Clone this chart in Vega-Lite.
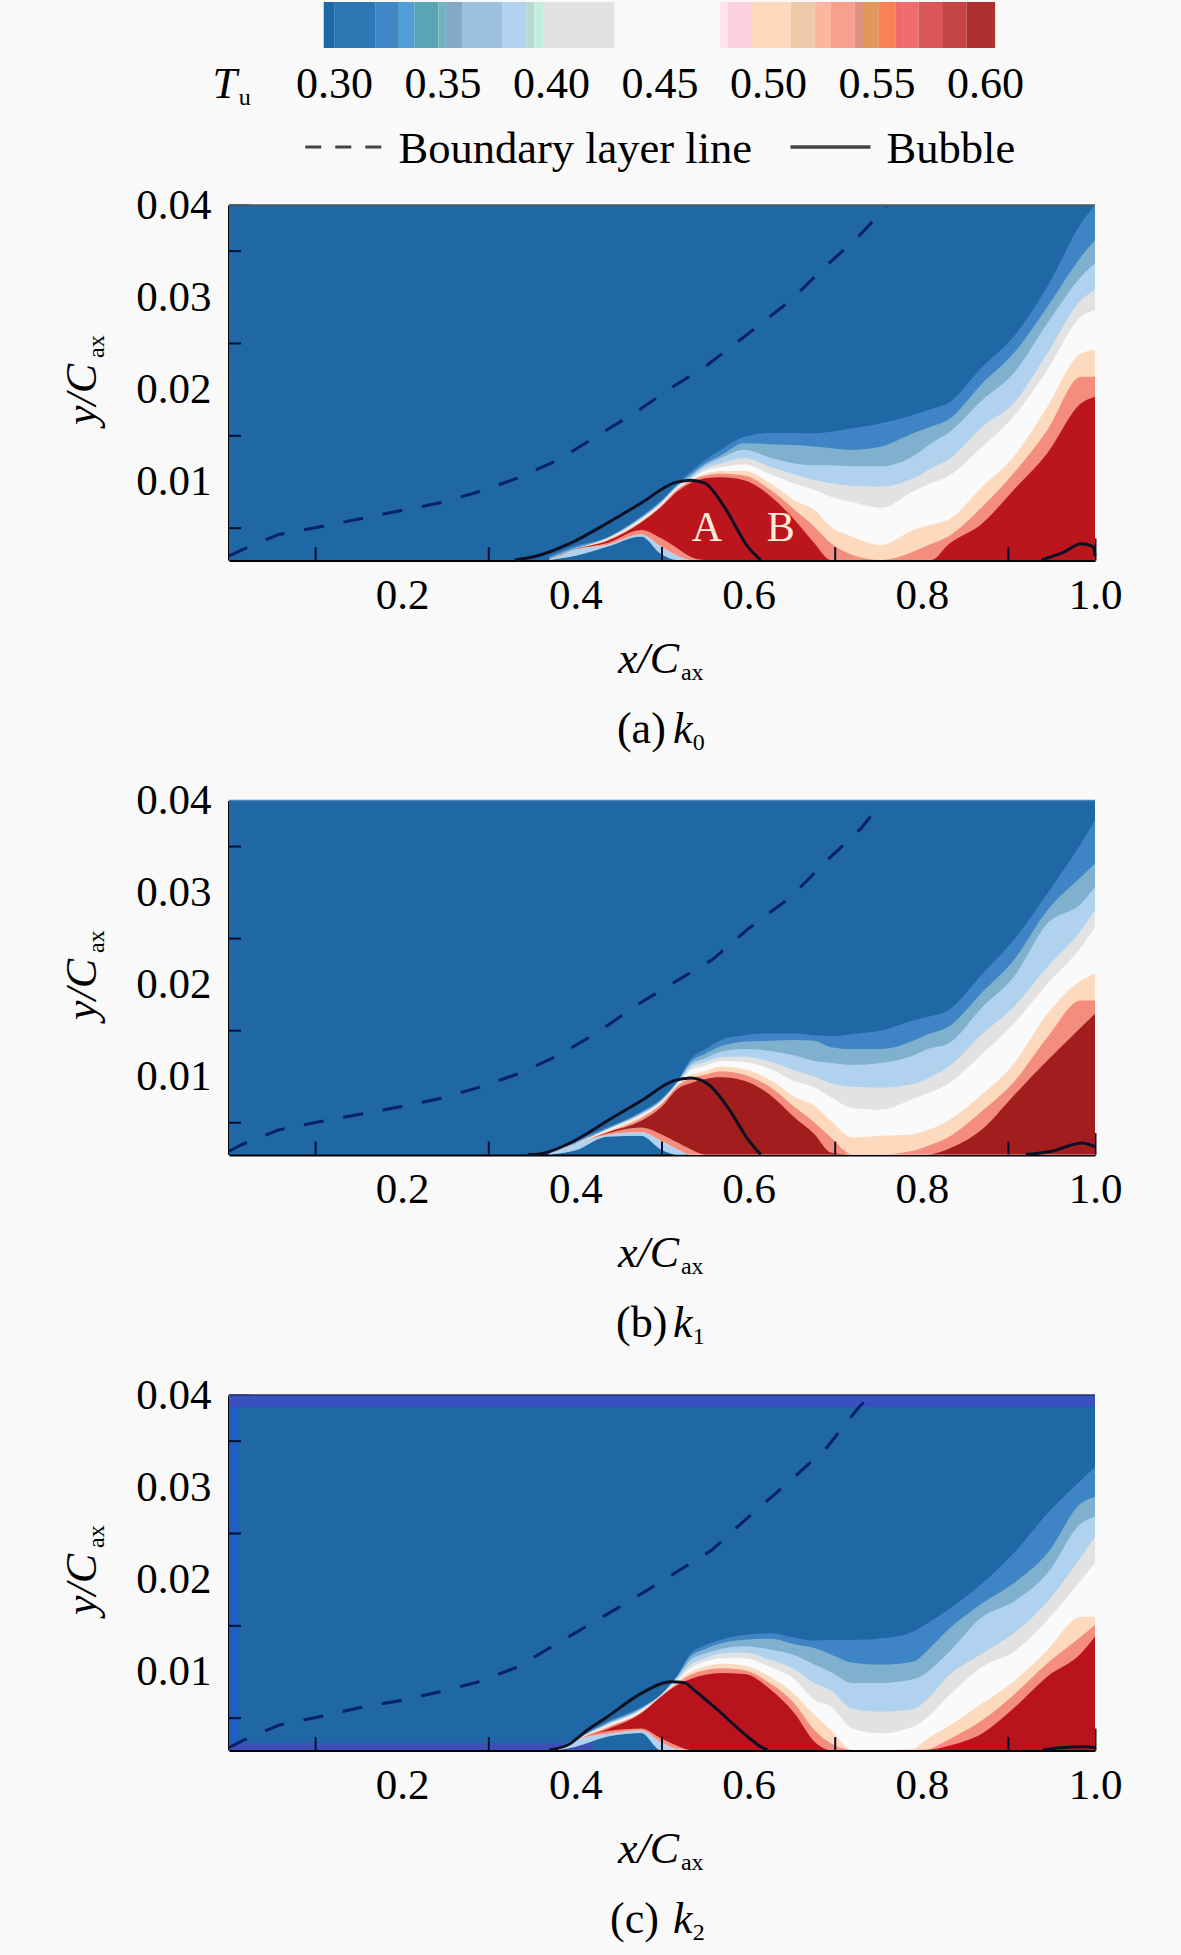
{"$schema":"https://vega.github.io/schema/vega-lite/v6.json","background":"#f9f9f9","padding":0,"bounds":"flush","spacing":240.5,"data":{"values":[{"k":1}]},"config":{"view":{"stroke":null},"axis":{"grid":false,"labelFont":"Liberation Serif","labelFontSize":43,"labelColor":"#000","tickColor":"#07112e","tickWidth":2,"domainColor":"#000","domainWidth":3,"zindex":1,"labelFlush":false,"labelOverlap":false,"labelBound":false}},
"datasets":{
"fa":[
{"x":0.37,"c1":0.002,"c2":0.0018,"c3":0.0016,"c4":0.00155,"c5":0.00155,"c6":0.00155,"c7":0.00155,"c8":0.00155,"bo":0.00155,"bm":0.00155,"br":0.00155},
{"x":0.4,"c1":0.0031,"c2":0.0029,"c3":0.0027,"c4":0.0027,"c5":0.0027,"c6":0.0027,"c7":0.0027,"c8":0.0027,"bo":0.002,"bm":0.0027,"br":0.0027},
{"x":0.437,"c1":0.004,"c2":0.004,"c3":0.0039,"c4":0.0039,"c5":0.0038,"c6":0.0038,"c7":0.0037,"c8":0.0036,"bo":0.003,"bm":0.0032,"br":0.0034},
{"x":0.476,"c1":0.0063,"c2":0.0062,"c3":0.0061,"c4":0.006,"c5":0.0059,"c6":0.0058,"c7":0.0057,"c8":0.0056,"bo":0.0041,"bm":0.0043,"br":0.0048},
{"x":0.499,"c1":0.008,"c2":0.0079,"c3":0.0078,"c4":0.0077,"c5":0.0076,"c6":0.0075,"c7":0.0074,"c8":0.0073,"bo":0.0022,"bm":0.003,"br":0.0039},
{"x":0.518,"c1":0.0098,"c2":0.0097,"c3":0.0096,"c4":0.0095,"c5":0.0094,"c6":0.0093,"c7":0.0092,"c8":0.009,"bo":0.00155,"bm":0.002,"br":0.0028},
{"x":0.533,"c1":0.0111,"c2":0.0108,"c3":0.0106,"c4":0.0104,"c5":0.0103,"c6":0.0102,"c7":0.0101,"c8":0.0099,"bo":0.00155,"bm":0.00155,"br":0.0019},
{"x":0.55,"c1":0.0124,"c2":0.012,"c3":0.0118,"c4":0.0115,"c5":0.0112,"c6":0.0109,"c7":0.0107,"c8":0.0104,"bo":0.00155,"bm":0.00155,"br":0.00155},
{"x":0.568,"c1":0.0135,"c2":0.0129,"c3":0.0126,"c4":0.012,"c5":0.0116,"c6":0.0112,"c7":0.0109,"c8":0.0105,"bo":0.00155,"bm":0.00155,"br":0.00155},
{"x":0.595,"c1":0.0149,"c2":0.0142,"c3":0.0135,"c4":0.0126,"c5":0.0119,"c6":0.0112,"c7":0.0107,"c8":0.0102,"bo":0.00155,"bm":0.00155,"br":0.00155},
{"x":0.626,"c1":0.0153,"c2":0.0141,"c3":0.0126,"c4":0.0116,"c5":0.0108,"c6":0.0098,"c7":0.0091,"c8":0.0084,"bo":0.00155,"bm":0.00155,"br":0.00155},
{"x":0.653,"c1":0.0153,"c2":0.014,"c3":0.012,"c4":0.0108,"c5":0.0098,"c6":0.008,"c7":0.007,"c8":0.0059,"bo":0.00155,"bm":0.00155,"br":0.00155},
{"x":0.676,"c1":0.01527,"c2":0.01383,"c3":0.0118,"c4":0.01022,"c5":0.00913,"c6":0.00697,"c7":0.00516,"c8":0.00336,"bo":0.00155,"bm":0.00155,"br":0.00155},
{"x":0.695,"c1":0.01545,"c2":0.01365,"c3":0.0118,"c4":0.00986,"c5":0.00841,"c6":0.00516,"c7":0.00336,"c8":0.00155,"bo":0.00155,"bm":0.00155,"br":0.00155},
{"x":0.72,"c1":0.01581,"c2":0.01347,"c3":0.0117,"c4":0.0096,"c5":0.0078,"c6":0.00408,"c7":0.0021,"c8":0.00155,"bo":0.00155,"bm":0.00155,"br":0.00155},
{"x":0.753,"c1":0.01635,"c2":0.01383,"c3":0.0117,"c4":0.0095,"c5":0.0072,"c6":0.00318,"c7":0.00155,"c8":0.00155,"bo":0.00155,"bm":0.00155,"br":0.00155},
{"x":0.79,"c1":0.01726,"c2":0.01527,"c3":0.0128,"c4":0.0104,"c5":0.009,"c6":0.0048,"c7":0.00245,"c8":0.00155,"bo":0.00155,"bm":0.00155,"br":0.00155},
{"x":0.811,"c1":0.0179,"c2":0.016,"c3":0.0142,"c4":0.0115,"c5":0.0099,"c6":0.0054,"c7":0.0033,"c8":0.00155,"bo":0.00155,"bm":0.00155,"br":0.00155},
{"x":0.83,"c1":0.01852,"c2":0.01671,"c3":0.01527,"c4":0.01238,"c5":0.01058,"c6":0.00588,"c7":0.00408,"c8":0.00318,"bo":0.00155,"bm":0.00155,"br":0.00155},
{"x":0.87,"c1":0.02249,"c2":0.02069,"c3":0.01888,"c4":0.01599,"c5":0.01383,"c6":0.0095,"c7":0.00733,"c8":0.00553,"bo":0.00155,"bm":0.00155,"br":0.00155},
{"x":0.906,"c1":0.02574,"c2":0.02393,"c3":0.02177,"c4":0.01852,"c5":0.01708,"c6":0.01274,"c7":0.01094,"c8":0.00913,"bo":0.00155,"bm":0.00155,"br":0.00155},
{"x":0.945,"c1":0.03116,"c2":0.02899,"c3":0.02718,"c4":0.02394,"c5":0.02213,"c6":0.01816,"c7":0.01563,"c8":0.01311,"bo":0.00155,"bm":0.00155,"br":0.00155},
{"x":0.984,"c1":0.03801,"c2":0.0344,"c3":0.03224,"c4":0.02971,"c5":0.02791,"c6":0.02394,"c7":0.02141,"c8":0.01852,"bo":0.00155,"bm":0.00155,"br":0.00155},
{"x":1,"c1":0.04,"c2":0.03621,"c3":0.03368,"c4":0.0308,"c5":0.02863,"c6":0.0243,"c7":0.02141,"c8":0.01924,"bo":0.00155,"bm":0.00155,"br":0.00155}],
"fb":[
{"x":0.37,"c1":0.002,"c2":0.0018,"c3":0.0016,"c4":0.00155,"c5":0.00155,"c6":0.00155,"c7":0.00155,"c8":0.00155,"bo":0.00155,"bm":0.00155,"br":0.00155},
{"x":0.4,"c1":0.0031,"c2":0.0029,"c3":0.0027,"c4":0.0027,"c5":0.0027,"c6":0.0027,"c7":0.0027,"c8":0.0027,"bo":0.002,"bm":0.0027,"br":0.0027},
{"x":0.437,"c1":0.0045,"c2":0.0044,"c3":0.0043,"c4":0.0043,"c5":0.0042,"c6":0.0041,"c7":0.004,"c8":0.00395,"bo":0.0035,"bm":0.0037,"br":0.00385},
{"x":0.476,"c1":0.0062,"c2":0.0061,"c3":0.006,"c4":0.0059,"c5":0.0058,"c6":0.0057,"c7":0.0055,"c8":0.00521,"bo":0.0036,"bm":0.004,"br":0.00449},
{"x":0.499,"c1":0.0076,"c2":0.0075,"c3":0.0074,"c4":0.0073,"c5":0.0072,"c6":0.0071,"c7":0.007,"c8":0.00667,"bo":0.0021,"bm":0.00303,"br":0.00376},
{"x":0.518,"c1":0.0096,"c2":0.0095,"c3":0.0094,"c4":0.0093,"c5":0.0092,"c6":0.0091,"c7":0.009,"c8":0.00867,"bo":0.00155,"bm":0.0021,"br":0.00285},
{"x":0.533,"c1":0.0119,"c2":0.0116,"c3":0.0113,"c4":0.011,"c5":0.0107,"c6":0.0102,"c7":0.0098,"c8":0.00928,"bo":0.00155,"bm":0.00155,"br":0.00213},
{"x":0.55,"c1":0.013,"c2":0.0125,"c3":0.012,"c4":0.0116,"c5":0.0112,"c6":0.0106,"c7":0.0102,"c8":0.00975,"bo":0.00155,"bm":0.00155,"br":0.00155},
{"x":0.568,"c1":0.014,"c2":0.0133,"c3":0.0127,"c4":0.0121,"c5":0.0117,"c6":0.0111,"c7":0.0106,"c8":0.00994,"bo":0.00155,"bm":0.00155,"br":0.00155},
{"x":0.595,"c1":0.0145,"c2":0.0138,"c3":0.013,"c4":0.0122,"c5":0.0116,"c6":0.0108,"c7":0.0102,"c8":0.00957,"bo":0.00155,"bm":0.00155,"br":0.00155},
{"x":0.626,"c1":0.0147,"c2":0.0139,"c3":0.0128,"c4":0.0116,"c5":0.0108,"c6":0.0096,"c7":0.0088,"c8":0.00793,"bo":0.00155,"bm":0.00155,"br":0.00155},
{"x":0.653,"c1":0.0147,"c2":0.014,"c3":0.0123,"c4":0.0107,"c5":0.0095,"c6":0.0078,"c7":0.0067,"c8":0.00556,"bo":0.00155,"bm":0.00155,"br":0.00155},
{"x":0.676,"c1":0.0145,"c2":0.0139,"c3":0.0117,"c4":0.01,"c5":0.00885,"c6":0.00685,"c7":0.00503,"c8":0.00376,"bo":0.00155,"bm":0.00155,"br":0.00155},
{"x":0.695,"c1":0.0144,"c2":0.0132,"c3":0.0115,"c4":0.0093,"c5":0.00776,"c6":0.00521,"c7":0.0034,"c8":0.00177,"bo":0.00155,"bm":0.00155,"br":0.00155},
{"x":0.72,"c1":0.01465,"c2":0.013,"c3":0.0113,"c4":0.0089,"c5":0.0066,"c6":0.0034,"c7":0.00155,"c8":0.00155,"bo":0.00155,"bm":0.00155,"br":0.00155},
{"x":0.753,"c1":0.01502,"c2":0.013,"c3":0.0115,"c4":0.0088,"c5":0.0064,"c6":0.00358,"c7":0.00155,"c8":0.00155,"bo":0.00155,"bm":0.00155,"br":0.00155},
{"x":0.79,"c1":0.01611,"c2":0.0139,"c3":0.0123,"c4":0.0092,"c5":0.0076,"c6":0.00376,"c7":0.00195,"c8":0.00155,"bo":0.00155,"bm":0.00155,"br":0.00155},
{"x":0.807,"c1":0.0165,"c2":0.0146,"c3":0.013,"c4":0.0098,"c5":0.0082,"c6":0.0042,"c7":0.0025,"c8":0.00155,"bo":0.00155,"bm":0.00155,"br":0.00155},
{"x":0.83,"c1":0.0172,"c2":0.01538,"c3":0.01357,"c4":0.01102,"c5":0.00921,"c6":0.00521,"c7":0.0034,"c8":0.00213,"bo":0.00155,"bm":0.00155,"br":0.00155},
{"x":0.87,"c1":0.02119,"c2":0.01919,"c3":0.01756,"c4":0.01465,"c5":0.01248,"c6":0.00812,"c7":0.0063,"c8":0.00431,"bo":0.00155,"bm":0.00155,"br":0.00155},
{"x":0.906,"c1":0.02482,"c2":0.02264,"c3":0.02083,"c4":0.01756,"c5":0.01574,"c6":0.01139,"c7":0.00939,"c8":0.00794,"bo":0.00155,"bm":0.00155,"br":0.00155},
{"x":0.945,"c1":0.02991,"c2":0.02809,"c3":0.02664,"c4":0.02192,"c5":0.0201,"c6":0.01683,"c7":0.01429,"c8":0.01175,"bo":0.00155,"bm":0.00155,"br":0.00155},
{"x":0.984,"c1":0.03535,"c2":0.03172,"c3":0.02882,"c4":0.02591,"c5":0.0241,"c6":0.02046,"c7":0.01829,"c8":0.01538,"bo":0.00155,"bm":0.00155,"br":0.00155},
{"x":1,"c1":0.03789,"c2":0.03317,"c3":0.03063,"c4":0.02809,"c5":0.02627,"c6":0.02119,"c7":0.01829,"c8":0.01683,"bo":0.00155,"bm":0.00155,"br":0.00155}],
"fc":[
{"x":0.38,"c1":0.0018,"c2":0.0017,"c3":0.0016,"c4":0.00155,"c5":0.00155,"c6":0.00155,"c7":0.00155,"c8":0.00155,"bo":0.00155,"bm":0.00155,"br":0.00155},
{"x":0.4,"c1":0.0028,"c2":0.0027,"c3":0.0026,"c4":0.0026,"c5":0.0026,"c6":0.0026,"c7":0.0026,"c8":0.0026,"bo":0.0019,"bm":0.0026,"br":0.0026},
{"x":0.437,"c1":0.0046,"c2":0.0045,"c3":0.0044,"c4":0.0043,"c5":0.0042,"c6":0.0041,"c7":0.004,"c8":0.0038,"bo":0.003,"bm":0.0033,"br":0.0036},
{"x":0.476,"c1":0.0062,"c2":0.0061,"c3":0.006,"c4":0.0059,"c5":0.0058,"c6":0.0057,"c7":0.0056,"c8":0.00552,"bo":0.0034,"bm":0.0037,"br":0.00389},
{"x":0.499,"c1":0.0076,"c2":0.0076,"c3":0.0075,"c4":0.0075,"c5":0.0074,"c6":0.0074,"c7":0.0074,"c8":0.00733,"bo":0.00155,"bm":0.0024,"br":0.00281},
{"x":0.518,"c1":0.0097,"c2":0.0096,"c3":0.0095,"c4":0.0093,"c5":0.0091,"c6":0.009,"c7":0.0088,"c8":0.00858,"bo":0.00155,"bm":0.00165,"br":0.00198},
{"x":0.533,"c1":0.012,"c2":0.0117,"c3":0.0113,"c4":0.0108,"c5":0.0104,"c6":0.01,"c7":0.0097,"c8":0.00924,"bo":0.00155,"bm":0.00155,"br":0.00155},
{"x":0.55,"c1":0.0129,"c2":0.0125,"c3":0.012,"c4":0.0115,"c5":0.0111,"c6":0.0106,"c7":0.0102,"c8":0.00971,"bo":0.00155,"bm":0.00155,"br":0.00155},
{"x":0.568,"c1":0.0135,"c2":0.0131,"c3":0.0125,"c4":0.012,"c5":0.0115,"c6":0.0109,"c7":0.0104,"c8":0.00988,"bo":0.00155,"bm":0.00155,"br":0.00155},
{"x":0.595,"c1":0.014,"c2":0.0135,"c3":0.0128,"c4":0.0121,"c5":0.0115,"c6":0.0107,"c7":0.0102,"c8":0.00978,"bo":0.00155,"bm":0.00155,"br":0.00155},
{"x":0.626,"c1":0.0142,"c2":0.0136,"c3":0.0124,"c4":0.0113,"c5":0.0105,"c6":0.0094,"c7":0.0087,"c8":0.00805,"bo":0.00155,"bm":0.00155,"br":0.00155},
{"x":0.653,"c1":0.0137,"c2":0.013,"c3":0.0118,"c4":0.0103,"c5":0.0092,"c6":0.0076,"c7":0.0066,"c8":0.00552,"bo":0.00155,"bm":0.00155,"br":0.00155},
{"x":0.676,"c1":0.0134,"c2":0.0126,"c3":0.0108,"c4":0.0088,"c5":0.00697,"c6":0.00534,"c7":0.00372,"c8":0.00245,"bo":0.00155,"bm":0.00155,"br":0.00155},
{"x":0.695,"c1":0.01347,"c2":0.0119,"c3":0.01,"c4":0.008,"c5":0.00625,"c6":0.00372,"c7":0.00227,"c8":0.00155,"bo":0.00155,"bm":0.00155,"br":0.00155},
{"x":0.72,"c1":0.01347,"c2":0.011,"c3":0.0088,"c4":0.006,"c5":0.00389,"c6":0.00155,"c7":0.00155,"c8":0.00155,"bo":0.00155,"bm":0.00155,"br":0.00155},
{"x":0.753,"c1":0.01365,"c2":0.0108,"c3":0.0088,"c4":0.0057,"c5":0.00336,"c6":0.00155,"c7":0.00155,"c8":0.00155,"bo":0.00155,"bm":0.00155,"br":0.00155},
{"x":0.79,"c1":0.01437,"c2":0.01111,"c3":0.0092,"c4":0.006,"c5":0.00407,"c6":0.0017,"c7":0.00155,"c8":0.00155,"bo":0.00155,"bm":0.00155,"br":0.00155},
{"x":0.805,"c1":0.0152,"c2":0.0122,"c3":0.0099,"c4":0.0069,"c5":0.005,"c6":0.0027,"c7":0.0016,"c8":0.00155,"bo":0.00155,"bm":0.00155,"br":0.00155},
{"x":0.83,"c1":0.01671,"c2":0.01455,"c3":0.01202,"c4":0.0095,"c5":0.00733,"c6":0.00407,"c7":0.00264,"c8":0.00198,"bo":0.00155,"bm":0.00155,"br":0.00155},
{"x":0.87,"c1":0.0196,"c2":0.01744,"c3":0.01599,"c4":0.01202,"c5":0.01058,"c6":0.00661,"c7":0.00479,"c8":0.00336,"bo":0.00155,"bm":0.00155,"br":0.00155},
{"x":0.906,"c1":0.02285,"c2":0.0196,"c3":0.01762,"c4":0.01419,"c5":0.0122,"c6":0.00895,"c7":0.00751,"c8":0.00607,"bo":0.00155,"bm":0.00155,"br":0.00155},
{"x":0.945,"c1":0.02718,"c2":0.02285,"c3":0.02069,"c4":0.01762,"c5":0.01563,"c6":0.01238,"c7":0.01094,"c8":0.0095,"bo":0.00155,"bm":0.00155,"br":0.00155},
{"x":0.984,"c1":0.03079,"c2":0.02827,"c3":0.0261,"c4":0.02249,"c5":0.01996,"c6":0.01599,"c7":0.01383,"c8":0.01202,"bo":0.00155,"bm":0.00155,"br":0.00155},
{"x":1,"c1":0.03224,"c2":0.02899,"c3":0.02682,"c4":0.02466,"c5":0.02177,"c6":0.01599,"c7":0.01509,"c8":0.01383,"bo":0.00155,"bm":0.00155,"br":0.00155}],
"da":[{"x":0,"y":0.002},{"x":0.014,"y":0.0026},{"x":0.0566,"y":0.0043},{"x":0.104,"y":0.00512},{"x":0.15,"y":0.00599},{"x":0.196,"y":0.00686},{"x":0.2425,"y":0.00772},{"x":0.2875,"y":0.00892},{"x":0.3337,"y":0.01043},{"x":0.38,"y":0.01238},{"x":0.427,"y":0.01509},{"x":0.47,"y":0.01758},{"x":0.514,"y":0.0204},{"x":0.55,"y":0.0225},{"x":0.6,"y":0.0261},{"x":0.649,"y":0.0297},{"x":0.687,"y":0.0332},{"x":0.726,"y":0.0365},{"x":0.759,"y":0.0398}],
"db":[{"x":0,"y":0.0019},{"x":0.014,"y":0.0026},{"x":0.0566,"y":0.0042},{"x":0.104,"y":0.0051},{"x":0.15,"y":0.0059},{"x":0.196,"y":0.0067},{"x":0.2425,"y":0.0076},{"x":0.2875,"y":0.00881},{"x":0.3337,"y":0.0103},{"x":0.38,"y":0.01229},{"x":0.426,"y":0.01484},{"x":0.472,"y":0.01785},{"x":0.515,"y":0.0203},{"x":0.558,"y":0.0227},{"x":0.6,"y":0.0261},{"x":0.649,"y":0.02954},{"x":0.691,"y":0.03354},{"x":0.73,"y":0.03699},{"x":0.742,"y":0.0384}],
"dc":[{"x":0,"y":0.0018},{"x":0.017,"y":0.00263},{"x":0.058,"y":0.00425},{"x":0.103,"y":0.00512},{"x":0.149,"y":0.0061},{"x":0.195,"y":0.00686},{"x":0.2425,"y":0.00783},{"x":0.2875,"y":0.00891},{"x":0.333,"y":0.01054},{"x":0.38,"y":0.01314},{"x":0.4215,"y":0.01542},{"x":0.47,"y":0.01812},{"x":0.5576,"y":0.0232},{"x":0.6,"y":0.0268},{"x":0.649,"y":0.03079},{"x":0.691,"y":0.0344},{"x":0.7275,"y":0.0387},{"x":0.74,"y":0.0398}],
"ba":[{"s":1,"x":0.33,"y":0.00155},{"s":1,"x":0.352,"y":0.0019},{"s":1,"x":0.395,"y":0.0034},{"s":1,"x":0.437,"y":0.00556},{"s":1,"x":0.476,"y":0.00772},{"s":1,"x":0.514,"y":0.0099},{"s":1,"x":0.533,"y":0.0102},{"s":1,"x":0.549,"y":0.0099},{"s":1,"x":0.572,"y":0.0073},{"s":1,"x":0.599,"y":0.003},{"s":1,"x":0.614,"y":0.00155},{"s":2,"x":0.938,"y":0.00155},{"s":2,"x":0.964,"y":0.0024},{"s":2,"x":0.984,"y":0.0033},{"s":2,"x":0.998,"y":0.003},{"s":2,"x":1,"y":0.002}],
"bb":[{"s":1,"x":0.345,"y":0.00155},{"s":1,"x":0.356,"y":0.00158},{"s":1,"x":0.395,"y":0.00285},{"s":1,"x":0.437,"y":0.00521},{"s":1,"x":0.476,"y":0.00739},{"s":1,"x":0.514,"y":0.00957},{"s":1,"x":0.533,"y":0.00986},{"s":1,"x":0.553,"y":0.00921},{"s":1,"x":0.576,"y":0.00667},{"s":1,"x":0.599,"y":0.00322},{"s":1,"x":0.614,"y":0.00155},{"s":2,"x":0.92,"y":0.00155},{"s":2,"x":0.95,"y":0.0019},{"s":2,"x":0.985,"y":0.0028},{"s":2,"x":1,"y":0.0024}],
"bc":[{"s":1,"x":0.37,"y":0.00155},{"s":1,"x":0.391,"y":0.00209},{"s":1,"x":0.414,"y":0.00372},{"s":1,"x":0.437,"y":0.00516},{"s":1,"x":0.476,"y":0.00769},{"s":1,"x":0.51,"y":0.00895},{"s":1,"x":0.526,"y":0.00884},{"s":1,"x":0.537,"y":0.00805},{"s":1,"x":0.56,"y":0.00624},{"s":1,"x":0.599,"y":0.00299},{"s":1,"x":0.614,"y":0.00191},{"s":1,"x":0.622,"y":0.00155},{"s":2,"x":0.94,"y":0.00155},{"s":2,"x":0.96,"y":0.0018},{"s":2,"x":0.99,"y":0.0019},{"s":2,"x":1,"y":0.0018}],
"bar":[{"t0":0.295,"t1":0.2998,"color":"#1f68a8"},{"t0":0.2998,"t1":0.3187,"color":"#2f76b4"},{"t0":0.3187,"t1":0.3296,"color":"#3f87c7"},{"t0":0.3296,"t1":0.3369,"color":"#529ed8"},{"t0":0.3369,"t1":0.3478,"color":"#58a5b4"},{"t0":0.3478,"t1":0.3513,"color":"#6fb5bc"},{"t0":0.3513,"t1":0.3587,"color":"#83a9c7"},{"t0":0.3587,"t1":0.3774,"color":"#9cc0dd"},{"t0":0.3774,"t1":0.3885,"color":"#b0d4ef"},{"t0":0.3885,"t1":0.392,"color":"#b8d8d0"},{"t0":0.392,"t1":0.3961,"color":"#c3ecdf"},{"t0":0.3961,"t1":0.4289,"color":"#e2e2e2"},{"t0":0.4775,"t1":0.4812,"color":"#fde3f0"},{"t0":0.4812,"t1":0.4919,"color":"#fdd0e0"},{"t0":0.4919,"t1":0.5103,"color":"#fdd9bd"},{"t0":0.5103,"t1":0.5212,"color":"#eec9a8"},{"t0":0.5212,"t1":0.5285,"color":"#fdb5a0"},{"t0":0.5285,"t1":0.5396,"color":"#f8a08e"},{"t0":0.5396,"t1":0.5435,"color":"#e09080"},{"t0":0.5435,"t1":0.5508,"color":"#e0985c"},{"t0":0.5508,"t1":0.5584,"color":"#fa8055"},{"t0":0.5584,"t1":0.5619,"color":"#f06a6a"},{"t0":0.5619,"t1":0.5692,"color":"#ee6c6c"},{"t0":0.5692,"t1":0.5804,"color":"#d95757"},{"t0":0.5804,"t1":0.5912,"color":"#c54545"},{"t0":0.5912,"t1":0.6044,"color":"#b03030"}],
"lab":[{"T":0.3,"label":"0.30"},{"T":0.35,"label":"0.35"},{"T":0.4,"label":"0.40"},{"T":0.45,"label":"0.45"},{"T":0.5,"label":"0.50"},{"T":0.55,"label":"0.55"},{"T":0.6,"label":"0.60"}],
"xm":[{"v":0.1},{"v":0.3},{"v":0.5},{"v":0.7},{"v":0.9}],
"ym":[{"v":0.005},{"v":0.015},{"v":0.025},{"v":0.035}]
},
"vconcat":[
{"width":866,"height":355,"resolve":{"scale":{"x":"independent"}},"layer":[
{"layer":[
{"mark":{"type":"rect","color":"#1f67a5"},"encoding":{"x":{"datum":0,"type":"quantitative","scale":{"domain":[0,1]},"axis":{"title":null,"values":[0.2,0.4,0.6,0.8,1],"format":".1f","tickSize":-22,"labelPadding":36}},"x2":{"datum":1},"y":{"datum":0.00155,"type":"quantitative","scale":{"domain":[0.00155,0.04]},"axis":{"title":null,"values":[0.01,0.02,0.03,0.04],"format":".2f","tickSize":-20,"labelPadding":38}},"y2":{"datum":0.04}}},
{"data":{"name":"fa"},"mark":{"type":"area","interpolate":"monotone","color":"#3f85c6"},"encoding":{"x":{"field":"x","type":"quantitative","scale":{"domain":[0,1]}},"y":{"field":"c1","type":"quantitative","scale":{"domain":[0.00155,0.04]}},"y2":{"field":"bo"}}},
{"data":{"name":"fa"},"mark":{"type":"area","interpolate":"monotone","color":"#7fb1cf"},"encoding":{"x":{"field":"x","type":"quantitative","scale":{"domain":[0,1]}},"y":{"field":"c2","type":"quantitative","scale":{"domain":[0.00155,0.04]}},"y2":{"field":"bo"}}},
{"data":{"name":"fa"},"mark":{"type":"area","interpolate":"monotone","color":"#b0d2ee"},"encoding":{"x":{"field":"x","type":"quantitative","scale":{"domain":[0,1]}},"y":{"field":"c3","type":"quantitative","scale":{"domain":[0.00155,0.04]}},"y2":{"field":"bo"}}},
{"data":{"name":"fa"},"mark":{"type":"area","interpolate":"monotone","color":"#e2e2e2"},"encoding":{"x":{"field":"x","type":"quantitative","scale":{"domain":[0,1]}},"y":{"field":"c4","type":"quantitative","scale":{"domain":[0.00155,0.04]}},"y2":{"field":"bm"}}},
{"data":{"name":"fa"},"mark":{"type":"area","interpolate":"monotone","color":"#fafafa"},"encoding":{"x":{"field":"x","type":"quantitative","scale":{"domain":[0,1]}},"y":{"field":"c5","type":"quantitative","scale":{"domain":[0.00155,0.04]}},"y2":{"field":"bm"}}},
{"data":{"name":"fa"},"mark":{"type":"area","interpolate":"monotone","color":"#fdd9bd"},"encoding":{"x":{"field":"x","type":"quantitative","scale":{"domain":[0,1]}},"y":{"field":"c6","type":"quantitative","scale":{"domain":[0.00155,0.04]}},"y2":{"field":"bm"}}},
{"data":{"name":"fa"},"mark":{"type":"area","interpolate":"monotone","color":"#f58d7e"},"encoding":{"x":{"field":"x","type":"quantitative","scale":{"domain":[0,1]}},"y":{"field":"c7","type":"quantitative","scale":{"domain":[0.00155,0.04]}},"y2":{"field":"bm"}}},
{"data":{"name":"fa"},"mark":{"type":"area","interpolate":"monotone","color":"#bb151d"},"encoding":{"x":{"field":"x","type":"quantitative","scale":{"domain":[0,1]}},"y":{"field":"c8","type":"quantitative","scale":{"domain":[0.00155,0.04]}},"y2":{"field":"br"}}},
{"data":{"name":"da"},"mark":{"type":"line","color":"#06206e","strokeWidth":3,"strokeDash":[20,20]},"encoding":{"x":{"field":"x","type":"quantitative","scale":{"domain":[0,1]}},"y":{"field":"y","type":"quantitative","scale":{"domain":[0.00155,0.04]}}}},
{"data":{"name":"ba"},"mark":{"type":"line","color":"#0c1024","strokeWidth":3,"interpolate":"monotone"},"encoding":{"detail":{"field":"s"},"x":{"field":"x","type":"quantitative","scale":{"domain":[0,1]}},"y":{"field":"y","type":"quantitative","scale":{"domain":[0.00155,0.04]}}}},
{"data":{"name":"xm"},"mark":{"type":"rule","color":"#07112e","strokeWidth":2},"encoding":{"x":{"field":"v","type":"quantitative","scale":{"domain":[0,1]}},"y":{"datum":0.00155,"type":"quantitative","scale":{"domain":[0.00155,0.04]}},"y2":{"datum":0.00295}}},
{"data":{"name":"ym"},"mark":{"type":"rule","color":"#07112e","strokeWidth":2},"encoding":{"y":{"field":"v","type":"quantitative","scale":{"domain":[0.00155,0.04]}},"x":{"datum":0,"type":"quantitative","scale":{"domain":[0,1]}},"x2":{"datum":0.0139}}},
{"mark":{"type":"rule","color":"#555","strokeWidth":1.5},"encoding":{"x":{"datum":0,"type":"quantitative","scale":{"domain":[0,1]}},"x2":{"datum":1},"y":{"datum":0.04,"type":"quantitative","scale":{"domain":[0.00155,0.04]}}}},
{"mark":{"type":"text","font":"Liberation Serif","fontSize":42,"color":"#fdecd8","align":"center","baseline":"middle"},"encoding":{"x":{"datum":0.552,"type":"quantitative","scale":{"domain":[0,1]}},"y":{"datum":0.005,"type":"quantitative","scale":{"domain":[0.00155,0.04]}},"text":{"value":"A"}}},
{"mark":{"type":"text","font":"Liberation Serif","fontSize":42,"color":"#fdecd8","align":"center","baseline":"middle"},"encoding":{"x":{"datum":0.637,"type":"quantitative","scale":{"domain":[0,1]}},"y":{"datum":0.005,"type":"quantitative","scale":{"domain":[0.00155,0.04]}},"text":{"value":"B"}}},
{"mark":{"type":"text","font":"Liberation Serif","fontSize":44,"fontStyle":"italic","align":"left","baseline":"alphabetic"},"encoding":{"x":{"datum":0.4492,"type":"quantitative","scale":{"domain":[0,1]}},"y":{"datum":-0.0107,"type":"quantitative","scale":{"domain":[0.00155,0.04]}},"text":{"value":"x/C"}}},
{"mark":{"type":"text","font":"Liberation Serif","fontSize":24,"align":"left","baseline":"alphabetic"},"encoding":{"x":{"datum":0.5219,"type":"quantitative","scale":{"domain":[0,1]}},"y":{"datum":-0.01145,"type":"quantitative","scale":{"domain":[0.00155,0.04]}},"text":{"value":"ax"}}},
{"mark":{"type":"text","font":"Liberation Serif","fontSize":44,"align":"left","baseline":"alphabetic"},"encoding":{"x":{"datum":0.448,"type":"quantitative","scale":{"domain":[0,1]}},"y":{"datum":-0.01827,"type":"quantitative","scale":{"domain":[0.00155,0.04]}},"text":{"value":"(a)"}}},
{"mark":{"type":"text","font":"Liberation Serif","fontSize":44,"fontStyle":"italic","align":"left","baseline":"alphabetic"},"encoding":{"x":{"datum":0.5127,"type":"quantitative","scale":{"domain":[0,1]}},"y":{"datum":-0.01827,"type":"quantitative","scale":{"domain":[0.00155,0.04]}},"text":{"value":"k"}}},
{"mark":{"type":"text","font":"Liberation Serif","fontSize":24,"align":"left","baseline":"alphabetic"},"encoding":{"x":{"datum":0.5355,"type":"quantitative","scale":{"domain":[0,1]}},"y":{"datum":-0.01903,"type":"quantitative","scale":{"domain":[0.00155,0.04]}},"text":{"value":"0"}}},
{"mark":{"type":"text","font":"Liberation Serif","fontSize":44,"fontStyle":"italic","angle":270,"align":"left","baseline":"alphabetic"},"encoding":{"x":{"datum":-0.1536,"type":"quantitative","scale":{"domain":[0,1]}},"y":{"datum":0.01617,"type":"quantitative","scale":{"domain":[0.00155,0.04]}},"text":{"value":"y/C"}}},
{"mark":{"type":"text","font":"Liberation Serif","fontSize":24,"angle":270,"align":"left","baseline":"alphabetic"},"encoding":{"x":{"datum":-0.1443,"type":"quantitative","scale":{"domain":[0,1]}},"y":{"datum":0.02343,"type":"quantitative","scale":{"domain":[0.00155,0.04]}},"text":{"value":"ax"}}}
]},
{"layer":[
{"mark":{"type":"rect","fill":"transparent"},"encoding":{"x":{"datum":0.14635,"type":"quantitative","scale":{"domain":[0.25135,0.65045]},"axis":null},"x2":{"datum":0.69055},"y":{"datum":0.0622,"type":"quantitative","scale":{"domain":[0.00155,0.04]}},"y2":{"datum":0.04}}},
{"data":{"name":"bar"},"mark":{"type":"rect"},"encoding":{"x":{"field":"t0","type":"quantitative","scale":{"domain":[0.25135,0.65045]},"axis":null},"x2":{"field":"t1"},"y":{"datum":0.06199,"type":"quantitative","scale":{"domain":[0.00155,0.04]}},"y2":{"datum":0.057},"color":{"field":"color","type":"nominal","scale":null}}},
{"data":{"name":"lab"},"mark":{"type":"text","font":"Liberation Serif","fontSize":44,"align":"center","baseline":"alphabetic"},"encoding":{"x":{"field":"T","type":"quantitative","scale":{"domain":[0.25135,0.65045]},"axis":null},"y":{"datum":0.05159,"type":"quantitative","scale":{"domain":[0.00155,0.04]}},"text":{"field":"label"}}},
{"mark":{"type":"text","font":"Liberation Serif","fontSize":44,"fontStyle":"italic","align":"left","baseline":"alphabetic"},"encoding":{"x":{"datum":0.2438,"type":"quantitative","scale":{"domain":[0.25135,0.65045]},"axis":null},"y":{"datum":0.05159,"type":"quantitative","scale":{"domain":[0.00155,0.04]}},"text":{"value":"T"}}},
{"mark":{"type":"text","font":"Liberation Serif","fontSize":24,"align":"left","baseline":"alphabetic"},"encoding":{"x":{"datum":0.2558,"type":"quantitative","scale":{"domain":[0.25135,0.65045]},"axis":null},"y":{"datum":0.05083,"type":"quantitative","scale":{"domain":[0.00155,0.04]}},"text":{"value":"u"}}},
{"mark":{"type":"rule","color":"#444","strokeWidth":3,"strokeDash":[16,14]},"encoding":{"x":{"datum":0.2865,"type":"quantitative","scale":{"domain":[0.25135,0.65045]},"axis":null},"x2":{"datum":0.3245},"y":{"datum":0.04628,"type":"quantitative","scale":{"domain":[0.00155,0.04]}}}},
{"mark":{"type":"text","font":"Liberation Serif","fontSize":44.5,"align":"left","baseline":"alphabetic"},"encoding":{"x":{"datum":0.3295,"type":"quantitative","scale":{"domain":[0.25135,0.65045]},"axis":null},"y":{"datum":0.04455,"type":"quantitative","scale":{"domain":[0.00155,0.04]}},"text":{"value":"Boundary layer line"}}},
{"mark":{"type":"rule","color":"#444","strokeWidth":3.5},"encoding":{"x":{"datum":0.5101,"type":"quantitative","scale":{"domain":[0.25135,0.65045]},"axis":null},"x2":{"datum":0.547},"y":{"datum":0.04628,"type":"quantitative","scale":{"domain":[0.00155,0.04]}}}},
{"mark":{"type":"text","font":"Liberation Serif","fontSize":44.5,"align":"left","baseline":"alphabetic"},"encoding":{"x":{"datum":0.5544,"type":"quantitative","scale":{"domain":[0.25135,0.65045]},"axis":null},"y":{"datum":0.04455,"type":"quantitative","scale":{"domain":[0.00155,0.04]}},"text":{"value":"Bubble"}}}
]}
]},
{"width":866,"height":354,"layer":[
{"mark":{"type":"rect","color":"#1f67a5"},"encoding":{"x":{"datum":0,"type":"quantitative","scale":{"domain":[0,1]},"axis":{"title":null,"values":[0.2,0.4,0.6,0.8,1],"format":".1f","tickSize":-22,"labelPadding":36}},"x2":{"datum":1},"y":{"datum":0.00155,"type":"quantitative","scale":{"domain":[0.00155,0.04]},"axis":{"title":null,"values":[0.01,0.02,0.03,0.04],"format":".2f","tickSize":-20,"labelPadding":38}},"y2":{"datum":0.04}}},
{"data":{"name":"fb"},"mark":{"type":"area","interpolate":"monotone","color":"#3f85c6"},"encoding":{"x":{"field":"x","type":"quantitative","scale":{"domain":[0,1]}},"y":{"field":"c1","type":"quantitative","scale":{"domain":[0.00155,0.04]}},"y2":{"field":"bo"}}},
{"data":{"name":"fb"},"mark":{"type":"area","interpolate":"monotone","color":"#7fb1cf"},"encoding":{"x":{"field":"x","type":"quantitative","scale":{"domain":[0,1]}},"y":{"field":"c2","type":"quantitative","scale":{"domain":[0.00155,0.04]}},"y2":{"field":"bo"}}},
{"data":{"name":"fb"},"mark":{"type":"area","interpolate":"monotone","color":"#b0d2ee"},"encoding":{"x":{"field":"x","type":"quantitative","scale":{"domain":[0,1]}},"y":{"field":"c3","type":"quantitative","scale":{"domain":[0.00155,0.04]}},"y2":{"field":"bo"}}},
{"data":{"name":"fb"},"mark":{"type":"area","interpolate":"monotone","color":"#e2e2e2"},"encoding":{"x":{"field":"x","type":"quantitative","scale":{"domain":[0,1]}},"y":{"field":"c4","type":"quantitative","scale":{"domain":[0.00155,0.04]}},"y2":{"field":"bm"}}},
{"data":{"name":"fb"},"mark":{"type":"area","interpolate":"monotone","color":"#fafafa"},"encoding":{"x":{"field":"x","type":"quantitative","scale":{"domain":[0,1]}},"y":{"field":"c5","type":"quantitative","scale":{"domain":[0.00155,0.04]}},"y2":{"field":"bm"}}},
{"data":{"name":"fb"},"mark":{"type":"area","interpolate":"monotone","color":"#fdd9bd"},"encoding":{"x":{"field":"x","type":"quantitative","scale":{"domain":[0,1]}},"y":{"field":"c6","type":"quantitative","scale":{"domain":[0.00155,0.04]}},"y2":{"field":"bm"}}},
{"data":{"name":"fb"},"mark":{"type":"area","interpolate":"monotone","color":"#f58d7e"},"encoding":{"x":{"field":"x","type":"quantitative","scale":{"domain":[0,1]}},"y":{"field":"c7","type":"quantitative","scale":{"domain":[0.00155,0.04]}},"y2":{"field":"bm"}}},
{"data":{"name":"fb"},"mark":{"type":"area","interpolate":"monotone","color":"#a11d1e"},"encoding":{"x":{"field":"x","type":"quantitative","scale":{"domain":[0,1]}},"y":{"field":"c8","type":"quantitative","scale":{"domain":[0.00155,0.04]}},"y2":{"field":"br"}}},
{"data":{"name":"db"},"mark":{"type":"line","color":"#06206e","strokeWidth":3,"strokeDash":[20,20]},"encoding":{"x":{"field":"x","type":"quantitative","scale":{"domain":[0,1]}},"y":{"field":"y","type":"quantitative","scale":{"domain":[0.00155,0.04]}}}},
{"data":{"name":"bb"},"mark":{"type":"line","color":"#0c1024","strokeWidth":3,"interpolate":"monotone"},"encoding":{"detail":{"field":"s"},"x":{"field":"x","type":"quantitative","scale":{"domain":[0,1]}},"y":{"field":"y","type":"quantitative","scale":{"domain":[0.00155,0.04]}}}},
{"data":{"name":"xm"},"mark":{"type":"rule","color":"#07112e","strokeWidth":2},"encoding":{"x":{"field":"v","type":"quantitative","scale":{"domain":[0,1]}},"y":{"datum":0.00155,"type":"quantitative","scale":{"domain":[0.00155,0.04]}},"y2":{"datum":0.00295}}},
{"data":{"name":"ym"},"mark":{"type":"rule","color":"#07112e","strokeWidth":2},"encoding":{"y":{"field":"v","type":"quantitative","scale":{"domain":[0.00155,0.04]}},"x":{"datum":0,"type":"quantitative","scale":{"domain":[0,1]}},"x2":{"datum":0.0139}}},
{"mark":{"type":"rule","color":"#4a84b8","strokeWidth":1.5},"encoding":{"x":{"datum":0,"type":"quantitative","scale":{"domain":[0,1]}},"x2":{"datum":1},"y":{"datum":0.04,"type":"quantitative","scale":{"domain":[0.00155,0.04]}}}},
{"mark":{"type":"text","font":"Liberation Serif","fontSize":44,"fontStyle":"italic","align":"left","baseline":"alphabetic"},"encoding":{"x":{"datum":0.4492,"type":"quantitative","scale":{"domain":[0,1]}},"y":{"datum":-0.0107,"type":"quantitative","scale":{"domain":[0.00155,0.04]}},"text":{"value":"x/C"}}},
{"mark":{"type":"text","font":"Liberation Serif","fontSize":24,"align":"left","baseline":"alphabetic"},"encoding":{"x":{"datum":0.5219,"type":"quantitative","scale":{"domain":[0,1]}},"y":{"datum":-0.01145,"type":"quantitative","scale":{"domain":[0.00155,0.04]}},"text":{"value":"ax"}}},
{"mark":{"type":"text","font":"Liberation Serif","fontSize":44,"align":"left","baseline":"alphabetic"},"encoding":{"x":{"datum":0.447,"type":"quantitative","scale":{"domain":[0,1]}},"y":{"datum":-0.01827,"type":"quantitative","scale":{"domain":[0.00155,0.04]}},"text":{"value":"(b)"}}},
{"mark":{"type":"text","font":"Liberation Serif","fontSize":44,"fontStyle":"italic","align":"left","baseline":"alphabetic"},"encoding":{"x":{"datum":0.5127,"type":"quantitative","scale":{"domain":[0,1]}},"y":{"datum":-0.01827,"type":"quantitative","scale":{"domain":[0.00155,0.04]}},"text":{"value":"k"}}},
{"mark":{"type":"text","font":"Liberation Serif","fontSize":24,"align":"left","baseline":"alphabetic"},"encoding":{"x":{"datum":0.5355,"type":"quantitative","scale":{"domain":[0,1]}},"y":{"datum":-0.01903,"type":"quantitative","scale":{"domain":[0.00155,0.04]}},"text":{"value":"1"}}},
{"mark":{"type":"text","font":"Liberation Serif","fontSize":44,"fontStyle":"italic","angle":270,"align":"left","baseline":"alphabetic"},"encoding":{"x":{"datum":-0.1536,"type":"quantitative","scale":{"domain":[0,1]}},"y":{"datum":0.01617,"type":"quantitative","scale":{"domain":[0.00155,0.04]}},"text":{"value":"y/C"}}},
{"mark":{"type":"text","font":"Liberation Serif","fontSize":24,"angle":270,"align":"left","baseline":"alphabetic"},"encoding":{"x":{"datum":-0.1443,"type":"quantitative","scale":{"domain":[0,1]}},"y":{"datum":0.02343,"type":"quantitative","scale":{"domain":[0.00155,0.04]}},"text":{"value":"ax"}}}
]},
{"width":866,"height":355,"layer":[
{"mark":{"type":"rect","color":"#1f67a5"},"encoding":{"x":{"datum":0,"type":"quantitative","scale":{"domain":[0,1]},"axis":{"title":null,"values":[0.2,0.4,0.6,0.8,1],"format":".1f","tickSize":-22,"labelPadding":36}},"x2":{"datum":1},"y":{"datum":0.00155,"type":"quantitative","scale":{"domain":[0.00155,0.04]},"axis":{"title":null,"values":[0.01,0.02,0.03,0.04],"format":".2f","tickSize":-20,"labelPadding":38}},"y2":{"datum":0.04}}},
{"mark":{"type":"rect","fill":"transparent"},"encoding":{"x":{"datum":-0.2633,"type":"quantitative","scale":{"domain":[0,1]}},"x2":{"datum":1.1005},"y":{"datum":-0.0207,"type":"quantitative","scale":{"domain":[0.00155,0.04]}},"y2":{"datum":0.00155}}},
{"mark":{"type":"rect","color":"#3a4fc0"},"encoding":{"x":{"datum":0,"type":"quantitative","scale":{"domain":[0,1]}},"x2":{"datum":1},"y":{"datum":0.0387,"type":"quantitative","scale":{"domain":[0.00155,0.04]}},"y2":{"datum":0.04}}},
{"mark":{"type":"rect","color":"#1f5fc0"},"encoding":{"x":{"datum":0,"type":"quantitative","scale":{"domain":[0,1]}},"x2":{"datum":0.012},"y":{"datum":0.00155,"type":"quantitative","scale":{"domain":[0.00155,0.04]}},"y2":{"datum":0.0387}}},
{"mark":{"type":"rect","color":"#3d50b8"},"encoding":{"x":{"datum":0,"type":"quantitative","scale":{"domain":[0,1]}},"x2":{"datum":0.42},"y":{"datum":0.00155,"type":"quantitative","scale":{"domain":[0.00155,0.04]}},"y2":{"datum":0.0023}}},
{"data":{"name":"fc"},"mark":{"type":"area","interpolate":"monotone","color":"#3f85c6"},"encoding":{"x":{"field":"x","type":"quantitative","scale":{"domain":[0,1]}},"y":{"field":"c1","type":"quantitative","scale":{"domain":[0.00155,0.04]}},"y2":{"field":"bo"}}},
{"data":{"name":"fc"},"mark":{"type":"area","interpolate":"monotone","color":"#7fb1cf"},"encoding":{"x":{"field":"x","type":"quantitative","scale":{"domain":[0,1]}},"y":{"field":"c2","type":"quantitative","scale":{"domain":[0.00155,0.04]}},"y2":{"field":"bo"}}},
{"data":{"name":"fc"},"mark":{"type":"area","interpolate":"monotone","color":"#b0d2ee"},"encoding":{"x":{"field":"x","type":"quantitative","scale":{"domain":[0,1]}},"y":{"field":"c3","type":"quantitative","scale":{"domain":[0.00155,0.04]}},"y2":{"field":"bo"}}},
{"data":{"name":"fc"},"mark":{"type":"area","interpolate":"monotone","color":"#e2e2e2"},"encoding":{"x":{"field":"x","type":"quantitative","scale":{"domain":[0,1]}},"y":{"field":"c4","type":"quantitative","scale":{"domain":[0.00155,0.04]}},"y2":{"field":"bm"}}},
{"data":{"name":"fc"},"mark":{"type":"area","interpolate":"monotone","color":"#fafafa"},"encoding":{"x":{"field":"x","type":"quantitative","scale":{"domain":[0,1]}},"y":{"field":"c5","type":"quantitative","scale":{"domain":[0.00155,0.04]}},"y2":{"field":"bm"}}},
{"data":{"name":"fc"},"mark":{"type":"area","interpolate":"monotone","color":"#fdd9bd"},"encoding":{"x":{"field":"x","type":"quantitative","scale":{"domain":[0,1]}},"y":{"field":"c6","type":"quantitative","scale":{"domain":[0.00155,0.04]}},"y2":{"field":"bm"}}},
{"data":{"name":"fc"},"mark":{"type":"area","interpolate":"monotone","color":"#f58d7e"},"encoding":{"x":{"field":"x","type":"quantitative","scale":{"domain":[0,1]}},"y":{"field":"c7","type":"quantitative","scale":{"domain":[0.00155,0.04]}},"y2":{"field":"bm"}}},
{"data":{"name":"fc"},"mark":{"type":"area","interpolate":"monotone","color":"#b9141d"},"encoding":{"x":{"field":"x","type":"quantitative","scale":{"domain":[0,1]}},"y":{"field":"c8","type":"quantitative","scale":{"domain":[0.00155,0.04]}},"y2":{"field":"br"}}},
{"data":{"name":"dc"},"mark":{"type":"line","color":"#06206e","strokeWidth":3,"strokeDash":[20,20]},"encoding":{"x":{"field":"x","type":"quantitative","scale":{"domain":[0,1]}},"y":{"field":"y","type":"quantitative","scale":{"domain":[0.00155,0.04]}}}},
{"data":{"name":"bc"},"mark":{"type":"line","color":"#0c1024","strokeWidth":3,"interpolate":"monotone"},"encoding":{"detail":{"field":"s"},"x":{"field":"x","type":"quantitative","scale":{"domain":[0,1]}},"y":{"field":"y","type":"quantitative","scale":{"domain":[0.00155,0.04]}}}},
{"data":{"name":"xm"},"mark":{"type":"rule","color":"#07112e","strokeWidth":2},"encoding":{"x":{"field":"v","type":"quantitative","scale":{"domain":[0,1]}},"y":{"datum":0.00155,"type":"quantitative","scale":{"domain":[0.00155,0.04]}},"y2":{"datum":0.00295}}},
{"data":{"name":"ym"},"mark":{"type":"rule","color":"#07112e","strokeWidth":2},"encoding":{"y":{"field":"v","type":"quantitative","scale":{"domain":[0.00155,0.04]}},"x":{"datum":0,"type":"quantitative","scale":{"domain":[0,1]}},"x2":{"datum":0.0139}}},
{"mark":{"type":"rule","color":"#1c3a70","strokeWidth":1.5},"encoding":{"x":{"datum":0,"type":"quantitative","scale":{"domain":[0,1]}},"x2":{"datum":1},"y":{"datum":0.04,"type":"quantitative","scale":{"domain":[0.00155,0.04]}}}},
{"mark":{"type":"text","font":"Liberation Serif","fontSize":44,"fontStyle":"italic","align":"left","baseline":"alphabetic"},"encoding":{"x":{"datum":0.4492,"type":"quantitative","scale":{"domain":[0,1]}},"y":{"datum":-0.0107,"type":"quantitative","scale":{"domain":[0.00155,0.04]}},"text":{"value":"x/C"}}},
{"mark":{"type":"text","font":"Liberation Serif","fontSize":24,"align":"left","baseline":"alphabetic"},"encoding":{"x":{"datum":0.5219,"type":"quantitative","scale":{"domain":[0,1]}},"y":{"datum":-0.01145,"type":"quantitative","scale":{"domain":[0.00155,0.04]}},"text":{"value":"ax"}}},
{"mark":{"type":"text","font":"Liberation Serif","fontSize":44,"align":"left","baseline":"alphabetic"},"encoding":{"x":{"datum":0.44,"type":"quantitative","scale":{"domain":[0,1]}},"y":{"datum":-0.01827,"type":"quantitative","scale":{"domain":[0.00155,0.04]}},"text":{"value":"(c)"}}},
{"mark":{"type":"text","font":"Liberation Serif","fontSize":44,"fontStyle":"italic","align":"left","baseline":"alphabetic"},"encoding":{"x":{"datum":0.5127,"type":"quantitative","scale":{"domain":[0,1]}},"y":{"datum":-0.01827,"type":"quantitative","scale":{"domain":[0.00155,0.04]}},"text":{"value":"k"}}},
{"mark":{"type":"text","font":"Liberation Serif","fontSize":24,"align":"left","baseline":"alphabetic"},"encoding":{"x":{"datum":0.5355,"type":"quantitative","scale":{"domain":[0,1]}},"y":{"datum":-0.01903,"type":"quantitative","scale":{"domain":[0.00155,0.04]}},"text":{"value":"2"}}},
{"mark":{"type":"text","font":"Liberation Serif","fontSize":44,"fontStyle":"italic","angle":270,"align":"left","baseline":"alphabetic"},"encoding":{"x":{"datum":-0.1536,"type":"quantitative","scale":{"domain":[0,1]}},"y":{"datum":0.01617,"type":"quantitative","scale":{"domain":[0.00155,0.04]}},"text":{"value":"y/C"}}},
{"mark":{"type":"text","font":"Liberation Serif","fontSize":24,"angle":270,"align":"left","baseline":"alphabetic"},"encoding":{"x":{"datum":-0.1443,"type":"quantitative","scale":{"domain":[0,1]}},"y":{"datum":0.02343,"type":"quantitative","scale":{"domain":[0.00155,0.04]}},"text":{"value":"ax"}}}
]}
]}
